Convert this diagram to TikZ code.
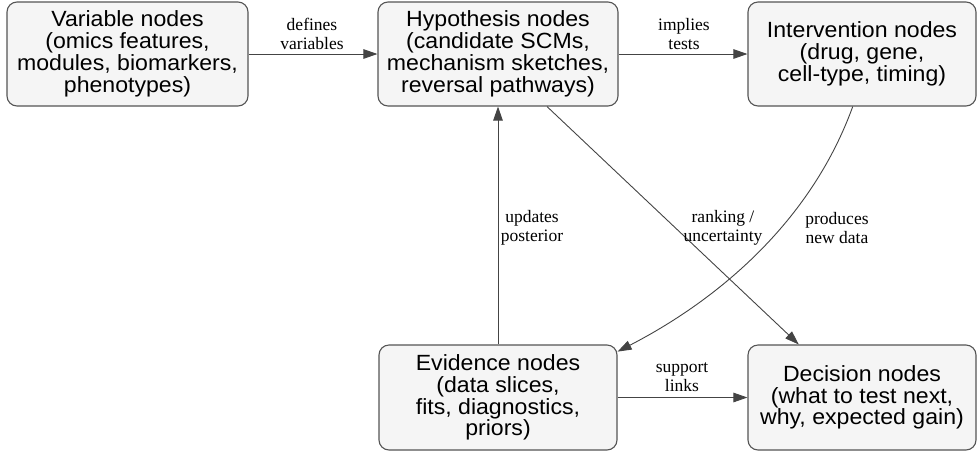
\documentclass[tikz,border=0pt]{standalone}
\usepackage{fontspec}
\usetikzlibrary{arrows.meta}
\newfontfamily\boxfont{Liberation Sans}[FakeStretch=1.05]
\newfontfamily\lblfont{Liberation Serif}
\definecolor{boxfill}{HTML}{F5F5F5}
\definecolor{boxline}{HTML}{555555}
\definecolor{edgeline}{HTML}{444444}
\tikzset{
  box/.style={draw=boxline, fill=boxfill, line width=1.1pt, rounded corners=10pt,
    align=center, inner sep=0pt, font=\boxfont\fontsize{22}{21.8}\selectfont},
  lbl/.style={align=center, inner sep=0pt, font=\lblfont\fontsize{17.5}{19}\selectfont},
  edge/.style={draw=edgeline, line width=0.9pt,
    -{Triangle[length=14pt,width=9.5pt]}}
}
\begin{document}
\begin{tikzpicture}[x=1pt,y=-1pt]
\useasboundingbox (0,0) rectangle (978,451);
\node[box, minimum width=241pt, minimum height=104pt] (v) at (127.5,54)
  {Variable nodes\\(omics features,\\modules, biomarkers,\\phenotypes)};
\node[box, minimum width=240pt, minimum height=104pt] (h) at (498,54)
  {Hypothesis nodes\\(candidate SCMs,\\mechanism sketches,\\reversal pathways)};
\node[box, minimum width=228pt, minimum height=104pt] (i) at (862,54)
  {Intervention nodes\\(drug, gene,\\cell-type, timing)};
\node[box, minimum width=238pt, minimum height=105pt] (e) at (498,397.5)
  {Evidence nodes\\(data slices,\\fits, diagnostics,\\priors)};
\node[box, minimum width=228pt, minimum height=105pt] (d) at (862,397.5)
  {Decision nodes\\(what to test next,\\why, expected gain)};

\draw[edge] (v.east) -- (h.west);
\draw[edge] (h.east) -- (i.west);
\draw[edge] (e.north) -- (h.south);
\draw[edge] (h.-47.9) -- (d.140.6);
\draw[edge] (i.-100.9) .. controls (813.5,215) and (727,295) .. (e.21.8);
\draw[edge] (e.east) -- (d.west);

\node[lbl] (l1) at (312,34) {defines\\variables};
\node[lbl] (l2) at (684,34) {implies\\tests};
\node[lbl] (l3) at (532,228) {updates\\posterior};
\node[lbl] (l4) at (723,228) {ranking /\\uncertainty};
\node[lbl] (l5) at (837,228) {produces\\new data};
\node[lbl] (l6) at (682,377) {support\\links};
\end{tikzpicture}
\end{document}
